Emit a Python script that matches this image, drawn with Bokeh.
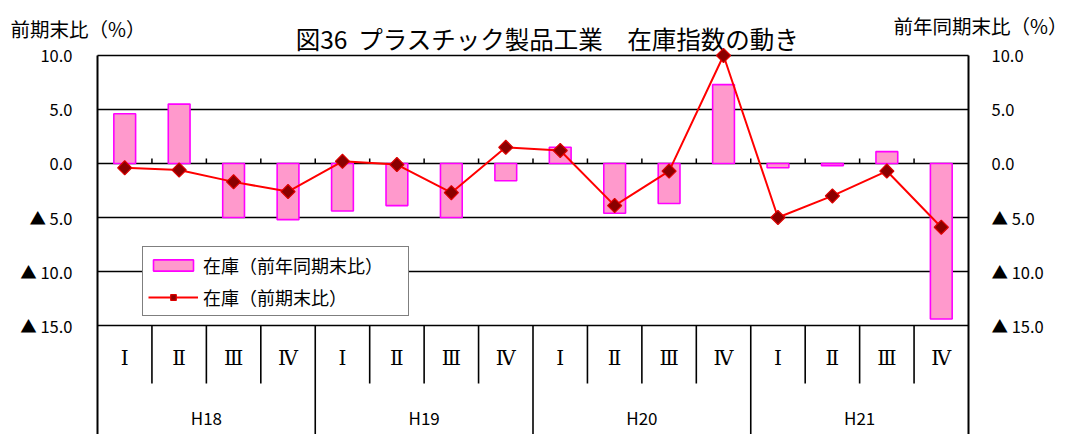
import math
from bokeh.plotting import figure
from bokeh.models import Range1d, ColumnDataSource, Legend, LegendItem
from bokeh.core.properties import value
from bokeh.embed import file_html
from bokeh.resources import INLINE

# ---- data ----
years = ["H18", "H19", "H20", "H21"]
quarters = ["Ⅰ", "Ⅱ", "Ⅲ", "Ⅳ"]
yoy = [4.6, 5.5, -5.0, -5.2, -4.4, -3.9, -5.0, -1.6,
       1.5, -4.6, -3.7, 7.3, -0.4, -0.2, 1.1, -14.4]      # 在庫（前年同期末比）
qoq = [-0.4, -0.6, -1.7, -2.6, 0.2, -0.1, -2.7, 1.5,
       1.2, -3.9, -0.7, 10.0, -5.0, -3.0, -0.7, -5.9]     # 在庫（前期末比）
y_ticks = [-15, -10, -5, 0, 5, 10]
y_tick_labels = ["▲ 15.0", "▲ 10.0", "▲ 5.0", "0.0", "5.0", "10.0"]

title_text = "図36\u00a0 プラスチック製品工業　在庫指数の動き"
left_title = "前期末比（%）"
right_title = "前年同期末比（%）"

FONT = "Noto Sans CJK JP"
W, H = 1066, 434
n = len(years) * len(quarters)
xs = [i + 0.5 for i in range(n)]

# ---- layout (pixel geometry of the plotting area) ----
PX_LEFT, PX_RIGHT = 97, 968      # x of category 0 and n
PX_TOP, PX_BOTTOM = 55, 325      # y of top tick and bottom tick
Y_TOP, Y_FLOOR = max(y_ticks), min(y_ticks)
XU = n / (PX_RIGHT - PX_LEFT)                 # data units per px (x)
YU = (Y_TOP - Y_FLOOR) / (PX_BOTTOM - PX_TOP)  # data units per px (y)


def dx(px):
    return (px - PX_LEFT) * XU


def dy(py):
    return Y_TOP - (py - PX_TOP) * YU


x_range = Range1d(dx(0), dx(W))
y_range = Range1d(dy(H), dy(0))
Y_MIN = dy(H)

p = figure(width=W, height=H, output_backend="svg", toolbar_location=None,
           x_range=x_range, y_range=y_range,
           x_axis_location=None, y_axis_location=None,
           min_border_left=0, min_border_right=0, min_border_top=0, min_border_bottom=0)
p.outline_line_color = None
p.background_fill_color = "white"
p.border_fill_color = "white"
p.xgrid.visible = False
p.ygrid.visible = False

# horizontal gridlines at tick values
p.segment(x0=[0] * len(y_ticks), x1=[n] * len(y_ticks), y0=y_ticks, y1=y_ticks,
          line_color="black", line_width=1.7)
# left / right axis lines (continue down through the category table)
p.segment(x0=[0, n], x1=[0, n], y0=[Y_TOP, Y_TOP], y1=[Y_MIN, Y_MIN],
          line_color="black", line_width=2)

# tick labels
p.text(x=[dx(72)] * len(y_ticks), y=y_ticks, text=y_tick_labels,
       text_align="right", text_baseline="middle",
       text_font=value(FONT), text_font_size="16.5px", text_color="black")
p.text(x=[dx(991)] * len(y_ticks), y=y_ticks, text=y_tick_labels,
       text_align="left", text_baseline="middle",
       text_font=value(FONT), text_font_size="16.5px", text_color="black")

# small ticks on the zero line
bnd = list(range(1, n))
p.segment(x0=bnd, x1=bnd, y0=[0] * len(bnd), y1=[5 * YU] * len(bnd),
          line_color="black", line_width=1.5)

# category table lines
qb = [b for b in bnd if b % 4 != 0]
yb = [b for b in bnd if b % 4 == 0]
p.segment(x0=qb, x1=qb, y0=[Y_FLOOR] * len(qb), y1=[dy(383)] * len(qb),
          line_color="black", line_width=1.6)
p.segment(x0=yb, x1=yb, y0=[Y_FLOOR] * len(yb), y1=[Y_MIN] * len(yb),
          line_color="black", line_width=1.6)

# quarter / year labels
qsrc = ColumnDataSource(dict(x=xs, y=[dy(357)] * n, t=quarters * len(years)))
p.text(x="x", y="y", text="t", source=qsrc, text_align="center", text_baseline="middle",
       text_font=value("DejaVu Serif"), text_font_size="20px", text_color="black")
ysrc = ColumnDataSource(dict(x=[i * 4 + 2 for i in range(len(years))],
                             y=[dy(417)] * len(years), t=years))
p.text(x="x", y="y", text="t", source=ysrc, text_align="center", text_baseline="middle",
       text_font=value(FONT), text_font_size="17px", text_color="black")

# titles
p.text(x=[dx(547)], y=[dy(38)], text=[title_text], text_align="center", text_baseline="middle",
       text_font=value(FONT), text_font_size="24.5px", text_color="black")
p.text(x=[dx(10)], y=[dy(28)], text=[left_title], text_align="left", text_baseline="middle",
       text_font=value(FONT), text_font_size="19.5px", text_color="black")
p.text(x=[dx(893)], y=[dy(25)], text=[right_title], text_align="left", text_baseline="middle",
       text_font=value(FONT), text_font_size="19.5px", text_color="black")

# bars and line
src = ColumnDataSource(dict(x=xs, yoy=yoy, qoq=qoq))
bars = p.vbar(x="x", top="yoy", bottom=0, width=0.4, source=src,
              fill_color="#FF99CC", line_color="#FF00FF", line_width=1.6)
ln = p.line(x="x", y="qoq", source=src, line_color="#FF0000", line_width=2)
mk = p.scatter(x="x", y="qoq", source=src, marker="square", angle=math.pi / 4, size=10,
               fill_color="#8B0000", line_color="#DD0000", line_width=1.2)

legend = Legend(items=[LegendItem(label="在庫（前年同期末比）", renderers=[bars]),
                       LegendItem(label="在庫（前期末比）", renderers=[ln, mk])],
                location=(142, H - 316), orientation="vertical")
legend.border_line_color = "black"
legend.border_line_width = 1.6
legend.background_fill_color = "white"
legend.background_fill_alpha = 1
legend.padding = 5
legend.spacing = 6
legend.label_height = 17
legend.glyph_height = 14
legend.glyph_width = 50
legend.label_width = 200
legend.label_standoff = 5
legend.label_text_font = FONT
legend.label_text_font_size = "18px"
legend.label_text_color = "black"
legend.margin = 0
p.add_layout(legend, "center")

open("out.html", "w").write(file_html(p, INLINE))
